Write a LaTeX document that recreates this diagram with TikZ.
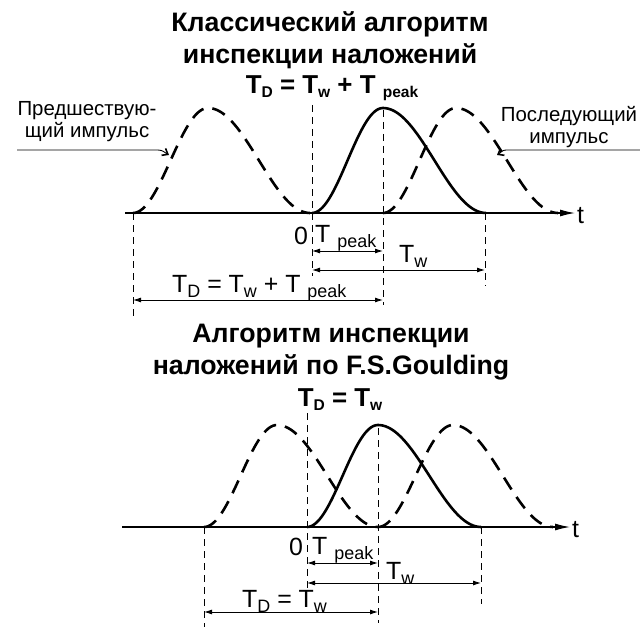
\documentclass[tikz,border=0pt]{standalone}
\usepackage{fontspec}
\usepackage{graphicx}
\setmainfont{Liberation Sans}
\usetikzlibrary{arrows.meta}
\newcommand\lo[1]{\raisebox{-0.45ex}{\scalebox{0.72}{#1}}}
\newcommand\los[1]{\raisebox{-0.3ex}{\scalebox{0.6}{#1}}}
\newcommand\pulsecurve[6]{%
  \draw[#6] plot[domain=0:1,samples=40] ({#1+#3*\x},{#2-#5*(1-cos(180*\x))/2})
   -- plot[domain=0:1,samples=40] ({#1+#3+#4*\x},{#2-#5*(1+cos(180*\x))/2});}
\tikzset{
  titletext/.style={font=\bfseries\fontsize{26.8}{32.5}\selectfont, align=center, inner sep=0pt},
  hdrformula/.style={font=\bfseries\fontsize{26}{30}\selectfont, inner sep=0pt},
  labeltext/.style={font=\fontsize{20.5}{22}\selectfont, align=center, inner sep=0pt},
  dimtext/.style={font=\fontsize{25}{28}\selectfont, inner sep=0pt},
  axisline/.style={line width=1.2bp, -{Latex[length=15bp,width=7bp]}},
  dimarrow/.style={line width=0.9bp, {Latex[length=8bp,width=5bp]}-{Latex[length=8bp,width=5bp]}},
  guide/.style={line width=1bp, dash pattern=on 7bp off 5bp},
  leader/.style={line width=0.9bp, -{Straight Barb[length=5bp,width=8bp,line width=1.6bp]}},
  dashpulse/.style={line width=2.6bp, dash pattern=on 14bp off 9bp},
  solidpulse/.style={line width=2.6bp},
}
\begin{document}
\begin{tikzpicture}[x=1bp,y=-1bp]
\path[use as bounding box, fill=white] (0,0) rectangle (640,627);

% ---------- TOP DIAGRAM ----------
\node[titletext] (title1) at (330,40) {Классический алгоритм\\инспекции наложений};
\node[hdrformula] (form1) at (332,88) {T\los{D} = T\los{w} + T \los{peak}};
\node[labeltext] (prevlbl) at (87,122) {Предшествую-\\щий импульс};
\node[labeltext] (nextlbl) at (569,127) {Последующий\\импульс};

% axis
\coordinate (a1s) at (125,213);
\coordinate (a1e) at (575,213);
\draw[axisline] (a1s) -- (a1e);
\node[dimtext, anchor=west] (t1) at (577,216) {t};

% pulses
\pulsecurve{133}{213}{75}{102}{105}{dashpulse}
\pulsecurve{312}{213}{71}{103}{105}{solidpulse}
\pulsecurve{383}{213}{73}{102}{105}{dashpulse}

% leaders
\coordinate (l1a) at (17,150);
\coordinate (l1b) at (169,155);
\draw[leader] (l1a) -- (158,150) to[out=0,in=150] (l1b);
\coordinate (r1a) at (640,150);
\coordinate (r1b) at (497,155);
\draw[leader] (r1a) -- (506,150) to[out=180,in=30] (r1b);

% guides
\coordinate (g1a) at (133,213); \coordinate (g1b) at (133,318);
\coordinate (g2a) at (312,105); \coordinate (g2b) at (312,276);
\coordinate (g3a) at (383,110); \coordinate (g3b) at (383,305);
\coordinate (g4a) at (485,213); \coordinate (g4b) at (485,286);
\draw[guide] (g1a) -- (g1b);
\draw[guide] (g2a) -- (g2b);
\draw[guide] (g3a) -- (g3b);
\draw[guide] (g4a) -- (g4b);

% dimensions
\node[dimtext] (zero1) at (301,236) {0};
\node[dimtext, anchor=base west] (tp1) at (315,242) {T \lo{peak}};
\coordinate (tp1a) at (312,251); \coordinate (tp1b) at (383,251);
\draw[dimarrow] (tp1a) -- (tp1b);
\node[dimtext, anchor=base west] (tw1) at (399,262) {T\lo{w}};
\coordinate (tw1a) at (312,270); \coordinate (tw1b) at (485,270);
\draw[dimarrow] (tw1a) -- (tw1b);
\node[dimtext, anchor=base west] (td1) at (172,292) {T\lo{D} = T\lo{w} + T \lo{peak}};
\coordinate (td1a) at (133,300); \coordinate (td1b) at (383,300);
\draw[dimarrow] (td1a) -- (td1b);

% ---------- BOTTOM DIAGRAM ----------
\node[titletext] (title2) at (331,352) {Алгоритм инспекции\\наложений по F.S.Goulding};
\node[hdrformula] (form2) at (340,400) {T\los{D} = T\los{w}};

\coordinate (a2s) at (122,527);
\coordinate (a2e) at (570,527);
\draw[axisline] (a2s) -- (a2e);
\node[dimtext, anchor=west] (t2) at (572,530) {t};

\pulsecurve{204}{527}{73}{101}{102}{dashpulse}
\pulsecurve{307}{527}{71}{103}{102}{solidpulse}
\pulsecurve{378}{527}{75}{100}{102}{dashpulse}

\coordinate (h1a) at (204,527); \coordinate (h1b) at (204,627);
\coordinate (h2a) at (307,413); \coordinate (h2b) at (307,592);
\coordinate (h3a) at (378,428); \coordinate (h3b) at (378,623);
\coordinate (h4a) at (481,527); \coordinate (h4b) at (481,604);
\draw[guide] (h1a) -- (h1b);
\draw[guide] (h2a) -- (h2b);
\draw[guide] (h3a) -- (h3b);
\draw[guide] (h4a) -- (h4b);

\node[dimtext] (zero2) at (296,547) {0};
\node[dimtext, anchor=base west] (tp2) at (312,554) {T \lo{peak}};
\coordinate (tp2a) at (307,563); \coordinate (tp2b) at (378,563);
\draw[dimarrow] (tp2a) -- (tp2b);
\node[dimtext, anchor=base west] (tw2) at (386,579) {T\lo{w}};
\coordinate (tw2a) at (307,583); \coordinate (tw2b) at (481,583);
\draw[dimarrow] (tw2a) -- (tw2b);
\node[dimtext, anchor=base west] (td2) at (242,607) {T\lo{D} = T\lo{w}};
\coordinate (td2a) at (204,612); \coordinate (td2b) at (378,612);
\draw[dimarrow] (td2a) -- (td2b);
\end{tikzpicture}
\end{document}
